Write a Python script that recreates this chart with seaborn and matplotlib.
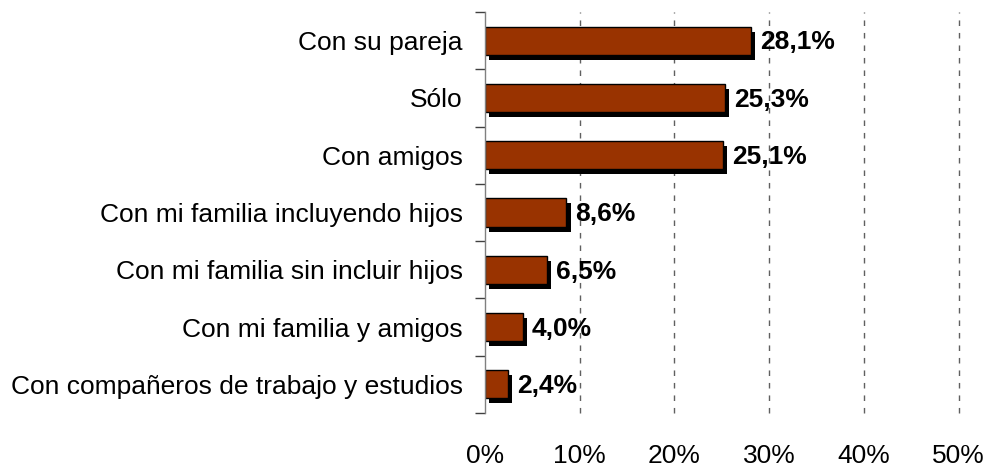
import matplotlib
matplotlib.use("Agg")
import matplotlib.pyplot as plt
import matplotlib.patheffects as pe
from matplotlib.ticker import FixedLocator
import pandas as pd
import seaborn as sns

# datos del gráfico
categorias = [
    "Con su pareja",
    "Sólo",
    "Con amigos",
    "Con mi familia incluyendo hijos",
    "Con mi familia sin incluir hijos",
    "Con mi familia y amigos",
    "Con compañeros de trabajo y estudios",
]
porcentajes = [28.1, 25.3, 25.1, 8.6, 6.5, 4.0, 2.4]
etiquetas_x = ["0%", "10%", "20%", "30%", "40%", "50%"]

df = pd.DataFrame({"categoria": categorias, "porcentaje": porcentajes})

sns.set_style("white")
plt.rcParams["font.family"] = ["Liberation Sans", "DejaVu Sans"]

fig = plt.figure(figsize=(10.07, 4.69), dpi=100)
ax = fig.add_axes([0.4816, 0.1194, 0.952 - 0.4816, 0.9744 - 0.1194])

sns.barplot(data=df, y="categoria", x="porcentaje", orient="h",
            color="#993300", saturation=1, width=0.49,
            edgecolor="black", linewidth=1, ax=ax)

# sombra negra de las barras
for barra in ax.patches:
    barra.set_path_effects([
        pe.SimplePatchShadow(offset=(3, -3.6), shadow_rgbFace="black", alpha=1),
        pe.Normal(),
    ])

# etiquetas de valor
for i, v in enumerate(porcentajes):
    ax.text(v + 0.95, i + 0.03, f"{v:.1f}%".replace(".", ","), va="center", ha="left",
            fontsize=19, fontweight="bold", color="black")

ax.set_xlim(0, 50)
ax.set_ylim(6.5, -0.5)
ax.set_xticks(range(0, 51, 10))
ax.set_xticklabels(etiquetas_x, fontsize=19)
ax.tick_params(axis="x", length=0, pad=22, labelcolor="black")

# líneas de cuadrícula discontinuas
for xv in range(10, 51, 10):
    ax.axvline(xv, color="#606060", linestyle=(0, (4, 5)), linewidth=1,
               zorder=0, clip_on=False)

ax.set_xlabel("")
ax.set_ylabel("")
ax.tick_params(axis="y", which="major", length=0, pad=16, labelsize=19,
               labelcolor="black")
ax.yaxis.set_minor_locator(FixedLocator([i - 0.5 for i in range(8)]))
ax.tick_params(axis="y", which="minor", length=7, width=1, color="#404040", left=True)

for lado in ["top", "right", "bottom"]:
    ax.spines[lado].set_visible(False)
ax.spines["left"].set_color("#808080")
ax.spines["left"].set_linewidth(1)

fig.savefig("out.png", dpi=100)
